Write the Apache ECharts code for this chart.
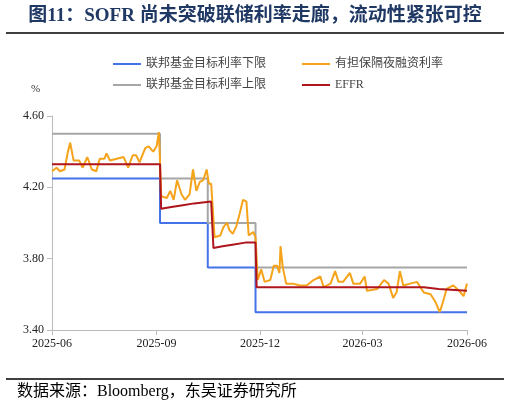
<!DOCTYPE html>
<html><head><meta charset="utf-8">
<script src="https://cdn.jsdelivr.net/npm/echarts@6/dist/echarts.min.js"></script>
<style>html,body{margin:0;padding:0;background:#fff}#c{width:510px;height:414px}</style>
</head><body><div id="c"></div>
<script>
// Day offsets from 2025-06-01
var sofrDays = [0,4,7,11,14,16,19,24,27,31,35,39,42,46,48,51,57,63,67,71,74,77,82,85,89,92,94,95,96,101,104,107,110,114,117,121,124,127,130,133,136,138,140,143,148,151,154,156,159,162,165,168,171,173,177,179,181,184,187,192,195,198,200,201,203,206,212,218,224,230,236,239,245,249,252,256,262,265,271,275,277,286,292,296,300,303,306,309,315,321,327,333,337,341,344,347,353,358,362,365];
var sofrVals = [4.29,4.31,4.29,4.30,4.40,4.45,4.35,4.35,4.31,4.37,4.30,4.29,4.36,4.36,4.39,4.35,4.36,4.37,4.31,4.38,4.38,4.34,4.42,4.43,4.40,4.43,4.51,4.35,4.15,4.14,4.18,4.13,4.24,4.16,4.13,4.16,4.30,4.18,4.23,4.24,4.30,4.22,4.22,3.92,3.93,3.98,4.00,3.96,3.94,3.98,4.05,4.13,4.12,3.93,3.95,3.92,3.68,3.74,3.67,3.68,3.76,3.76,3.72,3.87,3.75,3.66,3.66,3.65,3.65,3.68,3.70,3.64,3.66,3.73,3.67,3.67,3.72,3.66,3.66,3.70,3.62,3.63,3.68,3.66,3.58,3.61,3.73,3.65,3.66,3.67,3.61,3.60,3.56,3.50,3.56,3.63,3.65,3.62,3.59,3.66];
var effrDays = [0,95,96,105,115,125,140,141,142,150,160,170,179,180,327,328,340,341,365];
var effrVals = [4.33,4.33,4.08,4.09,4.10,4.11,4.12,4.12,3.86,3.87,3.88,3.89,3.89,3.64,3.64,3.63,3.63,3.62,3.62];
var lowerDays = [0,95,137,179,365];
var lowerVals = [4.25,4.00,3.75,3.50,3.50];
var upperVals = [4.50,4.25,4.00,3.75,3.75];
var xTicks = ['2025-06-01','2025-09-01','2025-12-01','2026-03-01','2026-06-01'];
var yTicks = [3.40,3.80,4.20,4.60];
var names = ['联邦基金目标利率下限','有担保隔夜融资利率','联邦基金目标利率上限','EFFR'];

var base = Date.UTC(2025,5,1);
function d(n){return base + n*86400000;}
function pairs(ds,vs){return ds.map(function(x,i){return [d(x),vs[i]];});}
var tickTimes = xTicks.map(function(s){var p=s.split('-');return Date.UTC(+p[0],+p[1]-1,+p[2]);});

var chart = echarts.init(document.getElementById('c'));
var serif = 'Liberation Serif';
var cjk = '"Liberation Serif","Noto Sans CJK SC"';
chart.setOption({
  animation:false,
  title:{text:'图11：SOFR 尚未突破联储利率走廊，流动性紧张可控',left:'center',top:2,
    textStyle:{color:'#1f3864',fontSize:19,fontWeight:'bold',fontFamily:cjk}},
  graphic:[
    {type:'line',shape:{x1:6,y1:33,x2:504,y2:33},style:{stroke:'#000',lineWidth:1.5}},
    {type:'line',shape:{x1:6,y1:379,x2:504,y2:379},style:{stroke:'#000',lineWidth:1.5}},
    {type:'text',left:17,top:384,style:{text:'数据来源：Bloomberg，东吴证券研究所',fontSize:16,fill:'#000',fontFamily:cjk}},
    {type:'text',left:31,top:84,style:{text:'%',fontSize:11,fill:'#333',fontFamily:serif}}
  ],
  legend:[
    {data:[names[0],names[1]],left:108,top:53,itemWidth:28,itemHeight:2,itemGap:36,icon:'rect',
     textStyle:{fontSize:12,color:'#444',fontFamily:cjk}},
    {data:[names[2],names[3]],left:108,top:74,itemWidth:28,itemHeight:2,itemGap:36,icon:'rect',
     textStyle:{fontSize:12,color:'#444',fontFamily:cjk}}
  ],
  grid:{left:52,right:43,top:116,bottom:84},
  xAxis:{type:'value',min:tickTimes[0],max:tickTimes[tickTimes.length-1],
    axisLine:{lineStyle:{color:'#bbb'}},
    axisTick:{show:true,customValues:tickTimes,lineStyle:{color:'#bbb'}},
    splitLine:{show:false},
    axisLabel:{customValues:tickTimes,color:'#222',fontSize:12,fontFamily:serif,
      formatter:function(v){var t=new Date(v);var m=t.getUTCMonth()+1;return t.getUTCFullYear()+'-'+(m<10?'0'+m:m);}}},
  yAxis:{type:'value',min:yTicks[0],max:yTicks[yTicks.length-1],interval:0.4,
    axisLine:{show:true,lineStyle:{color:'#bbb'}},axisTick:{show:true,lineStyle:{color:'#bbb'}},splitLine:{show:false},
    axisLabel:{color:'#222',fontSize:12,fontFamily:serif,formatter:function(v){return v.toFixed(2);}}},
  series:[
    {name:names[0],type:'line',step:'end',symbol:'none',data:pairs(lowerDays,lowerVals),lineStyle:{color:'#4472e8',width:2},itemStyle:{color:'#4472e8'}},
    {name:names[2],type:'line',step:'end',symbol:'none',data:pairs(lowerDays,upperVals),lineStyle:{color:'#a6a6a6',width:2},itemStyle:{color:'#a6a6a6'}},
    {name:names[1],type:'line',symbol:'none',data:pairs(sofrDays,sofrVals),lineStyle:{color:'#f5a31a',width:2},itemStyle:{color:'#f5a31a'}},
    {name:names[3],type:'line',symbol:'none',data:pairs(effrDays,effrVals),lineStyle:{color:'#b0151d',width:2},itemStyle:{color:'#b0151d'}}
  ]
});
</script></body></html>
